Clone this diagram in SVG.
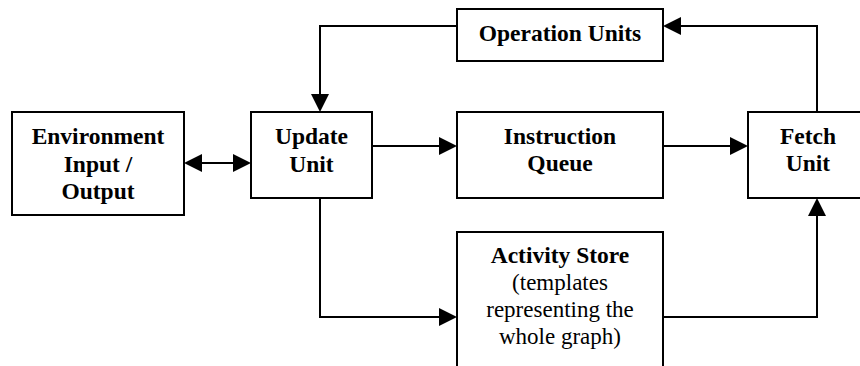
<svg xmlns="http://www.w3.org/2000/svg" width="860" height="366" viewBox="0 0 860 366">
<style>
.box{fill:#fff;stroke:#000;stroke-width:2}
.t{font-family:"Liberation Serif","Times New Roman",serif;font-size:23.5px;font-weight:bold;text-anchor:middle;fill:#000}
.r{font-family:"Liberation Serif","Times New Roman",serif;font-size:23px;text-anchor:middle;fill:#000}
.c{fill:none;stroke:#000;stroke-width:2;marker-end:url(#ah)}
</style>
<defs>
<marker id="ah" markerUnits="userSpaceOnUse" markerWidth="18" markerHeight="18" refX="14" refY="9" orient="auto-start-reverse" viewBox="0 0 18 18">
<path d="M0,0 L18,9 L0,18 z" fill="#000"/>
</marker>
</defs>
<rect width="860" height="366" fill="#fff"/>
<g id="connectors">
<path class="c" d="M188,163 H247" marker-start="url(#ah)"/>
<path class="c" d="M457,26 H320 V108"/>
<path class="c" d="M372,146 H453"/>
<path class="c" d="M663,146 H744"/>
<path class="c" d="M817,112 V26 H667"/>
<path class="c" d="M320,198 V317 H453"/>
<path class="c" d="M663,317 H817 V202"/>
</g>
<g id="env">
<rect class="box" x="12" y="112" width="172" height="103"/>
<text class="t" x="98" y="144">Environment</text>
<text class="t" x="98" y="171.5">Input /</text>
<text class="t" x="98" y="199">Output</text>
</g>
<g id="update">
<rect class="box" x="251" y="112" width="121" height="86"/>
<text class="t" x="311.5" y="144">Update</text>
<text class="t" x="311.5" y="171.5">Unit</text>
</g>
<g id="operation">
<rect class="box" x="457" y="9" width="206" height="52"/>
<text class="t" x="560" y="41">Operation Units</text>
</g>
<g id="queue">
<rect class="box" x="457" y="112" width="206" height="86"/>
<text class="t" x="560" y="143.5">Instruction</text>
<text class="t" x="560" y="171">Queue</text>
</g>
<g id="fetch">
<rect class="box" x="748" y="112" width="122" height="86"/>
<text class="t" x="808" y="143.5">Fetch</text>
<text class="t" x="808" y="171">Unit</text>
</g>
<g id="activity">
<rect class="box" x="457" y="232" width="206" height="150"/>
<text class="t" x="560" y="263">Activity Store</text>
<text class="r" x="560" y="290">(templates</text>
<text class="r" x="560" y="317">representing the</text>
<text class="r" x="560" y="344">whole graph)</text>
</g>
</svg>
